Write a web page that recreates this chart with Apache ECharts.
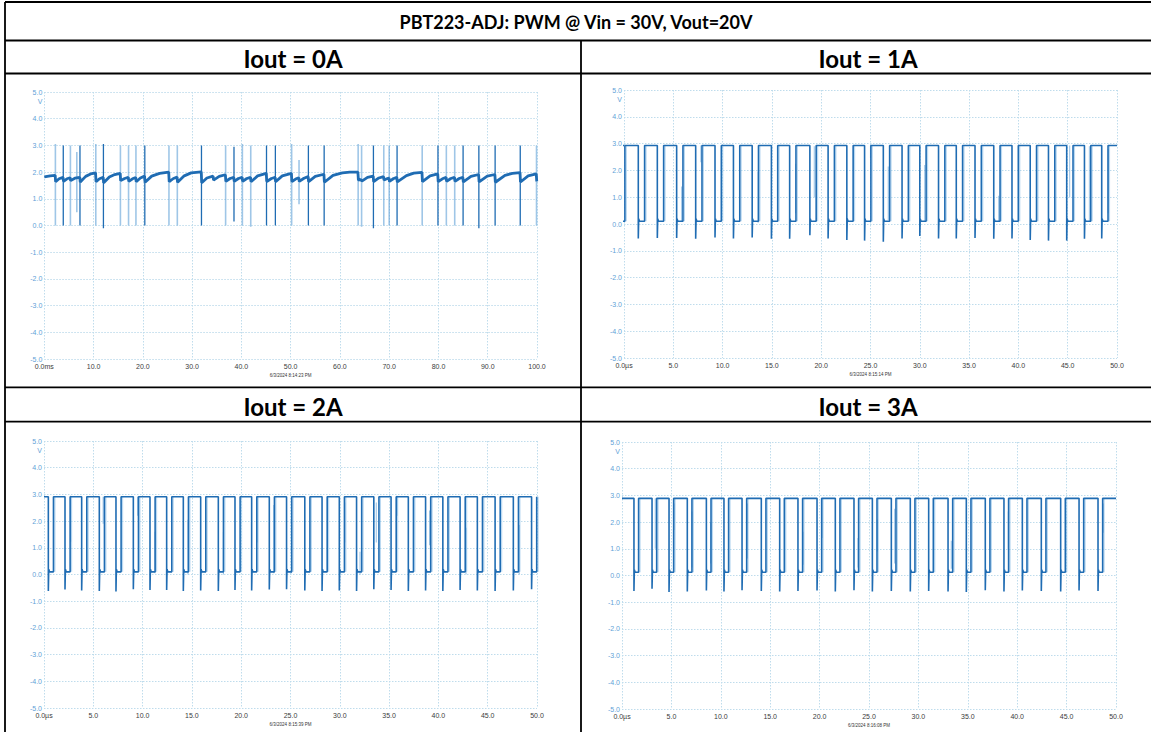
<!DOCTYPE html>
<html><head><meta charset="utf-8">
<script src="https://cdn.jsdelivr.net/npm/echarts@6/dist/echarts.min.js"></script>
<style>html,body{margin:0;padding:0;background:#fff}#c{width:1151px;height:732px}</style>
</head><body><div id="c"></div><script>
// ---------- text ----------
const TITLE = 'PBT223-ADJ: PWM @ Vin = 30V, Vout=20V';
const panelTitles = ['Iout = 0A', 'Iout = 1A', 'Iout = 2A', 'Iout = 3A'];
const timestamps = ['6/3/2024 8:14:23 PM', '6/3/2024 8:15:14 PM', '6/3/2024 8:15:39 PM', '6/3/2024 8:16:08 PM'];
const yTickLabels = ['-5.0', '-4.0', '-3.0', '-2.0', '-1.0', '0.0', '1.0', '2.0', '3.0', '4.0', '5.0'];
const xTickLabelsMs = ['0.0ms', '10.0', '20.0', '30.0', '40.0', '50.0', '60.0', '70.0', '80.0', '90.0', '100.0'];
const xTickLabelsUs = ['0.0\u00b5s', '5.0', '10.0', '15.0', '20.0', '25.0', '30.0', '35.0', '40.0', '45.0', '50.0'];

// ---------- Panel A: Iout = 0A (time in ms, volts) ----------
// burst pulses: time, bottom, top, shade (1 dark, 0 light)
const aPulseT   = [2.25,3.85,5.3,6.6,7.24,10.45,12.0,15.45,17.1,18.6,20.4,25.3,27.0,31.9,34.3,36.8,38.5,40.2,41.9,45.1,46.9,50.2,51.7,53.6,56.8,63.7,64.4,66.8,68.9,70.0,71.6,76.7,79.9,81.6,83.3,85.0,88.2,91.5,96.6,99.9];
const aPulseLo  = [0,0,0,0.5,0,0,-0.1,0,0,0,0,0,0,0,1.7,0,0.15,0,-0.05,0,0,0,0.8,0,0,0,-0.05,-0.1,0,0,0,0,0,0,0,0,-0.1,0,0,0];
const aPulseHi  = [3.05,3.0,3.0,2.75,3.0,3.05,3.05,3.0,3.0,3.0,3.0,3.0,3.0,3.0,1.85,3.0,2.95,3.05,3.0,3.0,3.0,3.05,2.45,3.0,3.0,3.05,3.0,3.0,3.0,3.0,3.0,3.0,3.0,3.0,3.0,3.0,3.0,3.0,3.0,3.0];
const aPulseDark= [0,1,0,0,1,0,1,0,0,0,1,0,0,1,0,0,1,0,0,1,1,0,0,1,1,0,0,1,0,0,1,0,1,0,0,1,1,1,1,0];
// recovering output level between pulses
const aBaseline = [
[0,1.82],[1.2,1.86],[2.2,1.88],
[2.3,1.64],[3.0,1.75],[3.8,1.8],
[3.9,1.65],[4.6,1.75],[5.25,1.79],
[5.35,1.68],[6.2,1.77],[7.2,1.8],
[7.3,1.63],[8.4,1.84],[9.4,1.93],[10.4,1.97],
[10.5,1.64],[11.2,1.75],[11.95,1.8],
[12.05,1.6],[13.2,1.82],[14.3,1.91],[15.4,1.95],
[15.5,1.68],[16.3,1.76],[17.05,1.8],
[17.15,1.65],[17.9,1.75],[18.55,1.8],
[18.65,1.64],[19.5,1.78],[20.35,1.85],
[20.45,1.62],[21.8,1.85],[23.4,1.95],[25.25,2.0],
[25.35,1.64],[26.2,1.76],[26.95,1.81],
[27.05,1.62],[28.4,1.86],[29.8,1.97],[31.85,2.01],
[31.95,1.6],[33.0,1.78],[34.25,1.85],
[34.35,1.7],[35.5,1.84],[36.75,1.9],
[36.85,1.65],[37.7,1.76],[38.45,1.8],
[38.55,1.65],[39.4,1.76],[40.15,1.8],
[40.25,1.65],[41.1,1.76],[41.85,1.8],
[41.95,1.64],[43.3,1.86],[45.05,1.95],
[45.15,1.65],[46.1,1.76],[46.85,1.8],
[46.95,1.64],[48.3,1.86],[50.15,1.95],
[50.25,1.64],[51.0,1.74],[51.65,1.79],
[51.75,1.65],[52.7,1.77],[53.55,1.83],
[53.65,1.64],[55.0,1.84],[56.75,1.92],
[56.85,1.62],[58.6,1.88],[60.5,1.97],[62.0,2.0],[63.65,2.0],
[63.75,1.7],[64.1,1.72],[64.35,1.7],
[64.45,1.66],[65.6,1.8],[66.75,1.85],
[66.85,1.64],[67.9,1.78],[68.85,1.83],
[68.95,1.7],[69.5,1.75],[69.95,1.78],
[70.05,1.65],[70.9,1.76],[71.55,1.8],
[71.65,1.63],[73.5,1.87],[75.0,1.96],[76.65,1.99],
[76.75,1.64],[78.3,1.86],[79.85,1.93],
[79.95,1.64],[80.8,1.75],[81.55,1.8],
[81.65,1.65],[82.5,1.76],[83.25,1.8],
[83.35,1.65],[84.2,1.76],[84.95,1.8],
[85.05,1.63],[86.6,1.84],[88.15,1.91],
[88.25,1.63],[89.9,1.85],[91.45,1.91],
[91.55,1.62],[93.5,1.88],[95.0,1.95],[96.55,1.98],
[96.65,1.63],[98.2,1.86],[99.85,1.93],
[99.95,1.65],[100,1.65]
];

// ---------- Panel B: Iout = 1A (time in us) ----------
const bFalls  = [-0.55,1.45,3.38,5.34,7.27,9.23,11.1,13.0,14.95,16.8,18.85,20.7,22.6,24.4,26.3,28.2,30.0,31.9,33.7,35.6,37.5,39.35,41.2,43.05,44.9,46.7,48.45];
const bSpikes = [-0.5,-0.54,-0.52,-0.52,-0.55,-0.5,-0.54,-0.5,-0.55,-0.55,-0.42,-0.54,-0.6,-0.62,-0.66,-0.54,-0.45,-0.54,-0.54,-0.52,-0.55,-0.54,-0.6,-0.62,-0.62,-0.55,-0.54];
const bLevels = [2.93, 0.1];   // high, low
const bLowWidth = 0.64;
const bGlitchT  = [5.85,7.8,13.6,17.4,19.3,25.0,26.8,30.5,38.0,45.2,47.2,49.1];
const bGlitchLo = [0.1,2.3,0.05,0.4,1.0,2.45,0.15,0.1,0.1,1.0,0.1,0.4];
const bGlitchHi = [1.4,2.93,1.95,2.25,2.9,2.93,2.15,2.2,1.05,2.93,2.9,2.8];

// ---------- Panel C: Iout = 2A (time in us) ----------
const cFalls  = [0.44,2.13,3.82,5.61,7.3,9.06,10.75,12.44,14.13,15.89,17.68,19.37,21.06,22.85,24.6,26.45,28.2,29.95,31.7,33.45,35.2,36.95,38.7,40.45,42.2,43.95,45.75,47.6,49.45];
const cSpikes = [-0.62,-0.56,-0.6,-0.62,-0.64,-0.55,-0.58,-0.58,-0.62,-0.6,-0.62,-0.58,-0.6,-0.56,-0.55,-0.6,-0.62,-0.6,-0.62,-0.55,-0.58,-0.62,-0.6,-0.62,-0.58,-0.6,-0.62,-0.6,-0.55];
const cLevels = [2.91, 0.1];
const cLowWidth = 0.52;
const cGlitchT  = [2.7,6.0,9.5,11.26,14.6,18.2,21.6,23.3,25.1,30.5,32.05,33.7,35.8,39.1,42.8,48.2];
const cGlitchLo = [1.23,1.9,2.2,0.05,0.0,0.0,1.2,0.05,0.05,1.2,0.0,1.2,2.2,1.1,0.0,0.0];
const cGlitchHi = [2.95,2.91,2.91,1.6,2.05,1.6,2.91,2.6,2.1,2.7,0.85,2.7,2.95,2.4,1.75,1.85];

// ---------- Panel D: Iout = 3A (time in us) ----------
const dFalls  = [1.21,3.04,4.76,6.61,8.54,10.32,12.15,14.1,15.96,17.81,19.74,21.59,23.48,25.34,27.26,29.18,31.04,33.0,34.85,36.77,38.66,40.52,42.44,44.4,46.26,48.18];
const dSpikes = [-0.58,-0.5,-0.62,-0.6,-0.56,-0.6,-0.55,-0.58,-0.6,-0.58,-0.56,-0.6,-0.55,-0.6,-0.58,-0.6,-0.58,-0.6,-0.62,-0.55,-0.6,-0.56,-0.58,-0.6,-0.56,-0.58];
const dLevels = [2.89, 0.12];
const dLowWidth = 0.47;
const dGlitchT  = [3.37,5.26,7.08,8.97,12.68,18.32,20.24,23.89,25.84,27.6,33.33,39.1,44.9,48.7];
const dGlitchLo = [1.0,1.7,0.3,0.45,0.64,0.4,1.4,0.3,0.9,0.45,0.25,1.0,0.6,1.6];
const dGlitchHi = [2.89,2.7,2.4,2.0,2.7,1.64,2.89,1.4,2.1,2.5,1.3,2.4,2.1,2.7];

// ---------- helpers (build line data from the arrays above) ----------
function squareWave(falls, spikes, levels, lowW) {
  const hi = levels[0], lo = levels[1];
  const pts = [[0, hi]];
  falls.forEach((f, i) => {
    const r = f + lowW;
    pts.push([f, hi], [f, spikes[i]], [f + 0.04, lo + 0.1], [f + 0.12, lo], [r, lo], [r, hi]);
  });
  pts.push([50, hi]);
  return pts;
}
function verticals(ts, los, his, filter) {
  const pts = [];
  ts.forEach((t, i) => {
    if (filter && !filter(i)) return;
    pts.push([t, los[i]], [t, his[i]], [t, '-']);
  });
  return pts;
}
function ghostRises(falls, levels, lowW, lag) {
  const pts = [];
  falls.forEach(f => { const t = f + lowW + lag; pts.push([t, levels[1]], [t, levels[0]], [t, '-']); });
  return pts;
}

// ---------- layout ----------
const grids = [
  {left: 44.3, top: 92, width: 492.7, height: 267},
  {left: 624, top: 90, width: 493, height: 268},
  {left: 44, top: 441, width: 493, height: 267},
  {left: 622, top: 442, width: 494, height: 267}
];
const DARK = '#1f6cb3', LIGHT = 'rgba(95,160,215,0.6)', FAINT = 'rgba(120,180,228,0.5)';
const gridLine = {show: true, lineStyle: {type: [1.5, 1.5], color: '#bfdcec', width: 1}};

const xAxes = grids.map((g, i) => ({
  gridIndex: i, type: 'value', min: 0, max: i === 0 ? 100 : 50, interval: i === 0 ? 10 : 5,
  axisLine: {show: false}, axisTick: {show: false}, splitLine: gridLine,
  axisLabel: {color: '#3c3c3c', fontSize: 7, margin: 4, fontFamily: 'Liberation Sans',
    formatter: (v) => (i === 0 ? xTickLabelsMs : xTickLabelsUs)[Math.round(v / (i === 0 ? 10 : 5))]},
  name: timestamps[i], nameLocation: 'middle', nameGap: 14,
  nameTextStyle: {fontSize: 4.5, color: '#333', fontFamily: 'Liberation Sans'}
}));
const yAxes = grids.map((g, i) => ({
  gridIndex: i, type: 'value', min: -5, max: 5, interval: 1,
  axisLine: {show: false}, axisTick: {show: false}, splitLine: gridLine,
  axisLabel: {color: '#5f9fd7', fontSize: 7, margin: 2, fontFamily: 'Liberation Sans',
    formatter: (v) => yTickLabels[Math.round(v + 5)]},
  name: 'V', nameLocation: 'end', nameGap: -9,
  nameTextStyle: {fontSize: 7, color: '#5f9fd7', align: 'right', verticalAlign: 'middle', padding: [0, 2, 0, 0], fontFamily: 'Liberation Sans'}
}));

const lineBase = {type: 'line', showSymbol: false, symbol: 'none', animation: false, silent: true, connectNulls: false};
const series = [
  // A
  Object.assign({}, lineBase, {xAxisIndex: 0, yAxisIndex: 0, data: verticals(aPulseT, aPulseLo, aPulseHi, i => !aPulseDark[i]), lineStyle: {color: LIGHT, width: 1.6}}),
  Object.assign({}, lineBase, {xAxisIndex: 0, yAxisIndex: 0, data: aBaseline, lineStyle: {color: DARK, width: 2.8}}),
  Object.assign({}, lineBase, {xAxisIndex: 0, yAxisIndex: 0, data: verticals(aPulseT, aPulseLo, aPulseHi, i => !!aPulseDark[i]), lineStyle: {color: DARK, width: 1.3}}),
  // B
  Object.assign({}, lineBase, {xAxisIndex: 1, yAxisIndex: 1, data: ghostRises(bFalls, bLevels, bLowWidth, 0.14), lineStyle: {color: FAINT, width: 1.3}}),
  Object.assign({}, lineBase, {xAxisIndex: 1, yAxisIndex: 1, data: verticals(bGlitchT, bGlitchLo, bGlitchHi), lineStyle: {color: LIGHT, width: 1.1}}),
  Object.assign({}, lineBase, {xAxisIndex: 1, yAxisIndex: 1, data: squareWave(bFalls, bSpikes, bLevels, bLowWidth), lineStyle: {color: DARK, width: 1.6}}),
  // C
  Object.assign({}, lineBase, {xAxisIndex: 2, yAxisIndex: 2, data: ghostRises(cFalls, cLevels, cLowWidth, 0.14), lineStyle: {color: FAINT, width: 1.3}}),
  Object.assign({}, lineBase, {xAxisIndex: 2, yAxisIndex: 2, data: verticals(cGlitchT, cGlitchLo, cGlitchHi), lineStyle: {color: LIGHT, width: 1.1}}),
  Object.assign({}, lineBase, {xAxisIndex: 2, yAxisIndex: 2, data: squareWave(cFalls, cSpikes, cLevels, cLowWidth), lineStyle: {color: DARK, width: 1.6}}),
  // D
  Object.assign({}, lineBase, {xAxisIndex: 3, yAxisIndex: 3, data: ghostRises(dFalls, dLevels, dLowWidth, 0.14), lineStyle: {color: FAINT, width: 1.3}}),
  Object.assign({}, lineBase, {xAxisIndex: 3, yAxisIndex: 3, data: verticals(dGlitchT, dGlitchLo, dGlitchHi), lineStyle: {color: LIGHT, width: 1.1}}),
  Object.assign({}, lineBase, {xAxisIndex: 3, yAxisIndex: 3, data: squareWave(dFalls, dSpikes, dLevels, dLowWidth), lineStyle: {color: DARK, width: 1.6}})
];

// table frame + header texts (table runs past the right edge of the page)
const L = 5, R = 1155, MID = 581;
const rowY = [2, 40.5, 73.5, 387.3, 421.7];
function hline(y, x1, x2) { return {type: 'line', shape: {x1: x1, y1: y, x2: x2, y2: y}, style: {stroke: '#000', lineWidth: 1.8}, silent: true}; }
function vline(x, y1, y2) { return {type: 'line', shape: {x1: x, y1: y1, x2: x, y2: y2}, style: {stroke: '#000', lineWidth: 1.8}, silent: true}; }
const headFont = 'bold 24px Lato, "Liberation Sans", sans-serif';
const titleFont = 'bold 18px Lato, "Liberation Sans", sans-serif';
function htext(s, x, y, font) { return {type: 'text', silent: true, style: {text: s, x: x, y: y, align: 'center', verticalAlign: 'middle', font: font || headFont, fill: '#000'}}; }
const graphic = [
  hline(rowY[0], L, R), hline(rowY[1], L, R), hline(rowY[2], L, R), hline(rowY[3], L, R), hline(rowY[4], L, R),
  vline(L, rowY[0], 732), vline(MID, rowY[1], 732),
  htext(TITLE, 576, 21.5, titleFont),
  htext(panelTitles[0], (L + MID) / 2, 58.5), htext(panelTitles[1], (MID + R) / 2, 58.5),
  htext(panelTitles[2], (L + MID) / 2, 406.5), htext(panelTitles[3], (MID + R) / 2, 406.5)
];

const chart = echarts.init(document.getElementById('c'), null, {renderer: 'svg'});
chart.setOption({
  animation: false, backgroundColor: '#fff',
  grid: grids, xAxis: xAxes, yAxis: yAxes, series: series, graphic: graphic
});
</script></body></html>
